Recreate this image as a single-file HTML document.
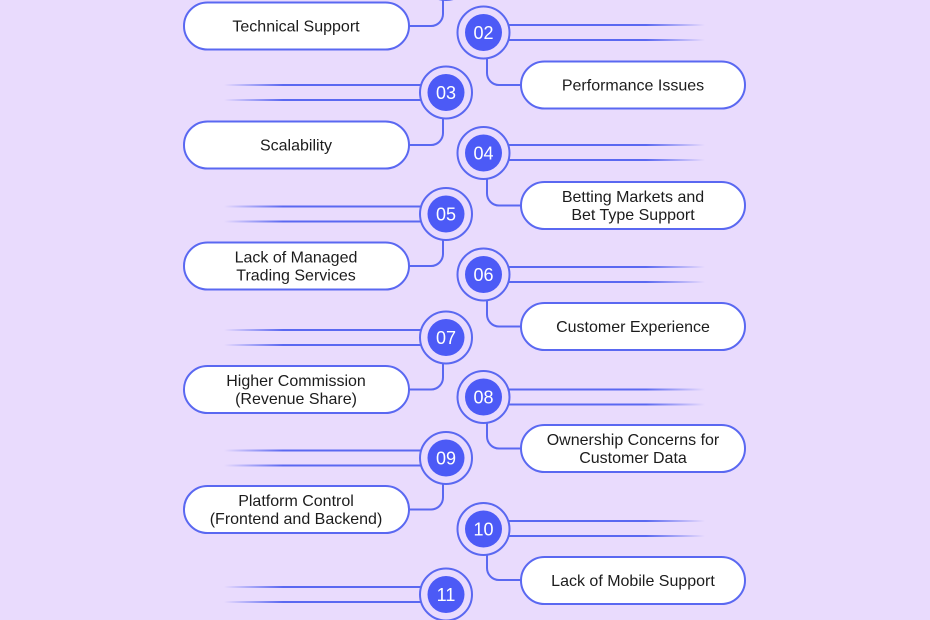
<!DOCTYPE html>
<html>
<head>
<meta charset="utf-8">
<style>
html,body{margin:0;padding:0;background:#E9DBFD;}
svg{display:block;}
text{font-family:"Liberation Sans",Arial,sans-serif;}
.bt{font-size:16px;fill:#1c1c1c;text-anchor:middle;}
.nt{font-size:18px;fill:#ffffff;text-anchor:middle;}
.ring{fill:none;stroke:#5A68F1;stroke-width:2;}
.inner{fill:#4C5AF6;}
.box{fill:#ffffff;stroke:#5A68F1;stroke-width:2;}
.con{fill:none;stroke:#5A68F1;stroke-width:2;}
</style>
</head>
<body>
<svg width="930" height="620" viewBox="0 0 930 620" xmlns="http://www.w3.org/2000/svg">
<defs>
<linearGradient id="gr" gradientUnits="userSpaceOnUse" x1="508" y1="0" x2="705" y2="0">
<stop offset="0" stop-color="#5A68F1" stop-opacity="1"/>
<stop offset="0.7" stop-color="#5A68F1" stop-opacity="1"/>
<stop offset="1" stop-color="#5A68F1" stop-opacity="0"/>
</linearGradient>
<linearGradient id="gl" gradientUnits="userSpaceOnUse" x1="421" y1="0" x2="224" y2="0">
<stop offset="0" stop-color="#5A68F1" stop-opacity="1"/>
<stop offset="0.7" stop-color="#5A68F1" stop-opacity="1"/>
<stop offset="1" stop-color="#5A68F1" stop-opacity="0"/>
</linearGradient>
</defs>
<rect width="930" height="620" fill="#E9DBFD"/>

<!-- 01 (off-screen circle) -->
<g>
<path class="con" d="M443 0 L443 14 A12 12 0 0 1 431 26 L409 26"/>
<circle class="ring" cx="446" cy="-26" r="26"/>
<rect class="box" x="184" y="2.5" width="225" height="47" rx="23.5"/>
<text class="bt" x="296" y="31.5">Technical Support</text>
</g>

<!-- 02 -->
<g>
<line x1="508" y1="25" x2="705" y2="25" stroke="url(#gr)" stroke-width="2"/>
<line x1="508" y1="40" x2="705" y2="40" stroke="url(#gr)" stroke-width="2"/>
<path class="con" d="M487 58 L487 73 A12 12 0 0 0 499 85 L521 85"/>
<circle class="ring" cx="483.5" cy="32.5" r="26"/>
<circle class="inner" cx="483.5" cy="32.5" r="18.5"/>
<text class="nt" x="483.5" y="39">02</text>
<rect class="box" x="521" y="61.5" width="224" height="47" rx="23.5"/>
<text class="bt" x="633" y="90.5">Performance Issues</text>
</g>

<!-- 03 -->
<g>
<line x1="224" y1="85" x2="421" y2="85" stroke="url(#gl)" stroke-width="2"/>
<line x1="224" y1="100" x2="421" y2="100" stroke="url(#gl)" stroke-width="2"/>
<path class="con" d="M443 118 L443 133 A12 12 0 0 1 431 145 L409 145"/>
<circle class="ring" cx="446" cy="92.5" r="26"/>
<circle class="inner" cx="446" cy="92.5" r="18.5"/>
<text class="nt" x="446" y="99">03</text>
<rect class="box" x="184" y="121.5" width="225" height="47" rx="23.5"/>
<text class="bt" x="296" y="150.5">Scalability</text>
</g>

<!-- 04 -->
<g>
<line x1="508" y1="145" x2="705" y2="145" stroke="url(#gr)" stroke-width="2"/>
<line x1="508" y1="160" x2="705" y2="160" stroke="url(#gr)" stroke-width="2"/>
<path class="con" d="M487 178.5 L487 193.5 A12 12 0 0 0 499 205.5 L521 205.5"/>
<circle class="ring" cx="483.5" cy="153" r="26"/>
<circle class="inner" cx="483.5" cy="153" r="18.5"/>
<text class="nt" x="483.5" y="159.5">04</text>
<rect class="box" x="521" y="182" width="224" height="47" rx="23.5"/>
<text class="bt" x="633" y="202">Betting Markets and</text>
<text class="bt" x="633" y="220">Bet Type Support</text>
</g>

<!-- 05 -->
<g>
<line x1="224" y1="206.5" x2="421" y2="206.5" stroke="url(#gl)" stroke-width="2"/>
<line x1="224" y1="221.5" x2="421" y2="221.5" stroke="url(#gl)" stroke-width="2"/>
<path class="con" d="M443 240 L443 254 A12 12 0 0 1 431 266 L409 266"/>
<circle class="ring" cx="446" cy="214" r="26"/>
<circle class="inner" cx="446" cy="214" r="18.5"/>
<text class="nt" x="446" y="220.5">05</text>
<rect class="box" x="184" y="242.5" width="225" height="47" rx="23.5"/>
<text class="bt" x="296" y="262.5">Lack of Managed</text>
<text class="bt" x="296" y="280.5">Trading Services</text>
</g>

<!-- 06 -->
<g>
<line x1="508" y1="267" x2="705" y2="267" stroke="url(#gr)" stroke-width="2"/>
<line x1="508" y1="282" x2="705" y2="282" stroke="url(#gr)" stroke-width="2"/>
<path class="con" d="M487 300 L487 314.5 A12 12 0 0 0 499 326.5 L521 326.5"/>
<circle class="ring" cx="483.5" cy="274.5" r="26"/>
<circle class="inner" cx="483.5" cy="274.5" r="18.5"/>
<text class="nt" x="483.5" y="281">06</text>
<rect class="box" x="521" y="303" width="224" height="47" rx="23.5"/>
<text class="bt" x="633" y="332">Customer Experience</text>
</g>

<!-- 07 -->
<g>
<line x1="224" y1="330" x2="421" y2="330" stroke="url(#gl)" stroke-width="2"/>
<line x1="224" y1="345" x2="421" y2="345" stroke="url(#gl)" stroke-width="2"/>
<path class="con" d="M443 363 L443 377.5 A12 12 0 0 1 431 389.5 L409 389.5"/>
<circle class="ring" cx="446" cy="337.5" r="26"/>
<circle class="inner" cx="446" cy="337.5" r="18.5"/>
<text class="nt" x="446" y="344">07</text>
<rect class="box" x="184" y="366" width="225" height="47" rx="23.5"/>
<text class="bt" x="296" y="386">Higher Commission</text>
<text class="bt" x="296" y="404">(Revenue Share)</text>
</g>

<!-- 08 -->
<g>
<line x1="508" y1="389.5" x2="705" y2="389.5" stroke="url(#gr)" stroke-width="2"/>
<line x1="508" y1="404.5" x2="705" y2="404.5" stroke="url(#gr)" stroke-width="2"/>
<path class="con" d="M487 422.5 L487 436.5 A12 12 0 0 0 499 448.5 L521 448.5"/>
<circle class="ring" cx="483.5" cy="397" r="26"/>
<circle class="inner" cx="483.5" cy="397" r="18.5"/>
<text class="nt" x="483.5" y="403.5">08</text>
<rect class="box" x="521" y="425" width="224" height="47" rx="23.5"/>
<text class="bt" x="633" y="445">Ownership Concerns for</text>
<text class="bt" x="633" y="463">Customer Data</text>
</g>

<!-- 09 -->
<g>
<line x1="224" y1="450.5" x2="421" y2="450.5" stroke="url(#gl)" stroke-width="2"/>
<line x1="224" y1="465.5" x2="421" y2="465.5" stroke="url(#gl)" stroke-width="2"/>
<path class="con" d="M443 483.5 L443 497.5 A12 12 0 0 1 431 509.5 L409 509.5"/>
<circle class="ring" cx="446" cy="458" r="26"/>
<circle class="inner" cx="446" cy="458" r="18.5"/>
<text class="nt" x="446" y="464.5">09</text>
<rect class="box" x="184" y="486" width="225" height="47" rx="23.5"/>
<text class="bt" x="296" y="506">Platform Control</text>
<text class="bt" x="296" y="524">(Frontend and Backend)</text>
</g>

<!-- 10 -->
<g>
<line x1="508" y1="521" x2="705" y2="521" stroke="url(#gr)" stroke-width="2"/>
<line x1="508" y1="536" x2="705" y2="536" stroke="url(#gr)" stroke-width="2"/>
<path class="con" d="M487 554.5 L487 568 A12 12 0 0 0 499 580 L521 580"/>
<circle class="ring" cx="483.5" cy="529" r="26"/>
<circle class="inner" cx="483.5" cy="529" r="18.5"/>
<text class="nt" x="483.5" y="535.5">10</text>
<rect class="box" x="521" y="557" width="224" height="47" rx="23.5"/>
<text class="bt" x="633" y="586">Lack of Mobile Support</text>
</g>

<!-- 11 -->
<g>
<line x1="224" y1="587" x2="421" y2="587" stroke="url(#gl)" stroke-width="2"/>
<line x1="224" y1="602" x2="421" y2="602" stroke="url(#gl)" stroke-width="2"/>
<circle class="ring" cx="446" cy="594.5" r="26"/>
<circle class="inner" cx="446" cy="594.5" r="18.5"/>
<text class="nt" x="446" y="601">11</text>
</g>
</svg>
</body>
</html>
